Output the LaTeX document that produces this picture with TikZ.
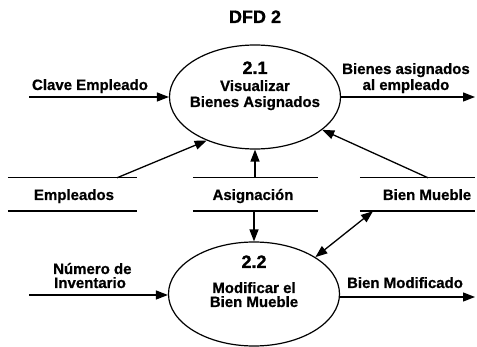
\documentclass[tikz,border=0pt]{standalone}
\usepackage{fontspec}
\setmainfont{Liberation Sans}[BoldFeatures={FakeBold=0.8}]
\usetikzlibrary{shapes.geometric,arrows.meta}
\begin{document}
\begin{tikzpicture}[x=1pt,y=-1pt,
  txt/.style={font=\fontsize{15}{15}\selectfont\bfseries, inner sep=0, anchor=base},
  num/.style={font=\fontsize{18}{18}\selectfont\bfseries, inner sep=0, anchor=base},
  proc/.style={draw, ellipse, line width=1.2pt, minimum width=171pt, minimum height=104pt, inner sep=0},
  tip/.tip={Triangle[length=12pt,width=9pt]},
  flow/.style={line width=1.3pt, -tip},
  bflow/.style={line width=1.3pt, tip-tip},
  store/.style={minimum height=33pt, inner sep=0},
  storeline/.style={line width=1.4pt}]
\useasboundingbox (0,0) rectangle (477,347);

% title
\node[num] (title) at (255,23) {DFD 2};

% processes
\node[proc] (e1) at (255,97) {};
\node[num] (n1) at (255,74) {2.1};
\node[txt] (t1a) at (255,91) {Visualizar};
\node[txt] (t1b) at (255,107) {Bienes Asignados};

\node[proc] (e2) at (254,294) {};
\node[num] (n2) at (254,268) {2.2};
\node[txt] (t2a) at (254,293) {Modificar el};
\node[txt] (t2b) at (254,307) {Bien Mueble};

% data stores
\node[store, minimum width=129pt] (emp) at (72.5,194.5) {};
\node[store, minimum width=125pt] (asg) at (255.5,194.5) {};
\node[store, minimum width=115pt] (bm) at (417.5,194.5) {};
\node[txt] (empt) at (74,200) {Empleados};
\node[txt] (asgt) at (253,200) {Asignación};
\node[txt] (bmt) at (427,200) {Bien Mueble};
\foreach \s in {emp,asg,bm}{
  \draw[storeline] (\s.north west) -- (\s.north east);
  \draw[storeline] (\s.south west) -- (\s.south east);
}

% external flows
\coordinate (cin1) at (29,97);
\coordinate (cout1) at (475,97);
\coordinate (cin2) at (29,295);
\coordinate (cout2) at (475,297);
\draw[flow] (cin1) -- (cin1 -| e1.west);
\draw[flow] (cout1 -| e1.east) -- (cout1);
\draw[flow] (cin2) -- (cin2 -| e2.west);
\draw[flow] (cout2 -| e2.east) -- (cout2);

\node[txt] (l1) at (90,90) {Clave Empleado};
\node[txt] (l2) at (406,74) {Bienes asignados};
\node[txt] (l3) at (406,90) {al empleado};
\node[txt, anchor=base west] (l4) at (53,274) {Número de};
\node[txt, anchor=base west] (l5) at (54,288) {Inventario};
\node[txt] (l6) at (405,288) {Bien Modificado};

% store flows
\draw[flow] ([xshift=44.5pt]emp.north) -- (e1.222.5);
\draw[flow] (asg.north -| e1.south) -- (e1.south);
\draw[flow] ([xshift=10.5pt]bm.north) -- (e1.334.5);
\draw[flow] (asg.south -| e2.north) -- (e2.north);
\draw[bflow] ([xshift=-44.5pt]bm.south) -- (e2.31.4);
\end{tikzpicture}
\end{document}
